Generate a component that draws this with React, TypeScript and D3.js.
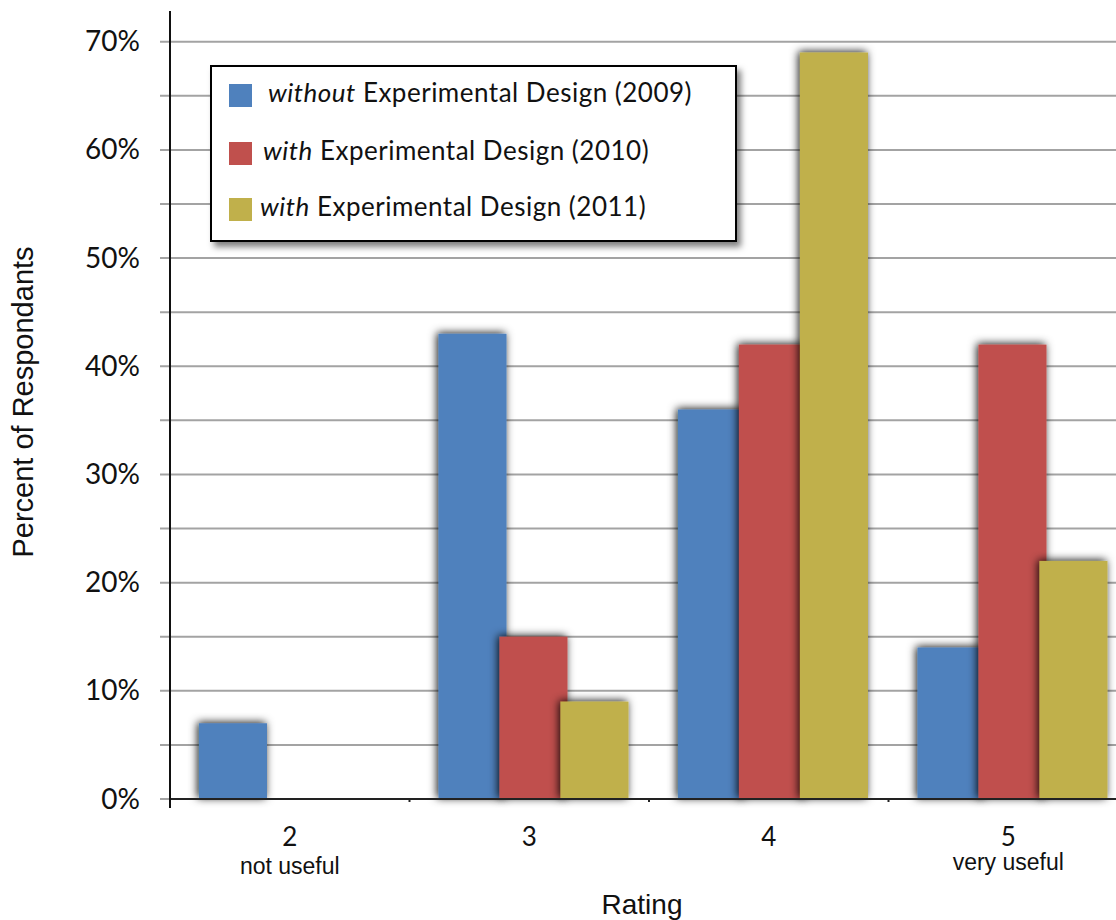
import * as d3 from 'd3';
import { useEffect, useRef } from 'react';

const width = 1116;
const height = 920;

const ratings = ['2', '3', '4', '5'];
const ratingNotes = ['not useful', '', '', 'very useful'];
const seriesKeys = ['2009', '2010', '2011'];
const seriesPrefix = ['without', 'with', 'with'];
const seriesRest = [
  ' Experimental Design (2009)',
  ' Experimental Design (2010)',
  ' Experimental Design (2011)',
];
const seriesColors = ['#4f81bd', '#c0504d', '#c0b04b'];
const values2009 = [7, 43, 36, 14];
const values2010 = [0, 15, 42, 42];
const values2011 = [0, 9, 69, 22];
const yTicks = [0, 10, 20, 30, 40, 50, 60, 70];
const yGrid = [0, 5, 10, 15, 20, 25, 30, 35, 40, 45, 50, 55, 60, 65, 70];

export default function App() {
  const containerRef = useRef<HTMLDivElement>(null);

  useEffect(() => {
    containerRef.current.innerHTML = '';
    document.body.style.margin = '0';

    const plot = { left: 170, right: 1128, top: 41.7, bottom: 799 };
    const values = [values2009, values2010, values2011];

    const x = d3.scaleBand().domain(ratings).range([plot.left, plot.right]);
    const band = x.bandwidth();
    const xs = d3
      .scaleBand()
      .domain(seriesKeys)
      .range([band * 0.121, band * 0.885]);
    const barW = xs.bandwidth() * 1.115;
    const y = d3.scaleLinear().domain([0, 70]).range([plot.bottom, plot.top]);

    const svg = d3
      .select(containerRef.current)
      .append('svg')
      .attr('width', width)
      .attr('height', height)
      .style('display', 'block')
      .style('background', '#fff');

    const defs = svg.append('defs');
    defs
      .append('filter')
      .attr('id', 'barShadow')
      .attr('x', '-40%')
      .attr('y', '-15%')
      .attr('width', '180%')
      .attr('height', '130%')
      .append('feDropShadow')
      .attr('dx', -1.5)
      .attr('dy', -1)
      .attr('stdDeviation', 4)
      .attr('flood-color', '#000')
      .attr('flood-opacity', 0.9);
    defs
      .append('filter')
      .attr('id', 'boxShadow')
      .attr('x', '-10%')
      .attr('y', '-10%')
      .attr('width', '130%')
      .attr('height', '140%')
      .append('feDropShadow')
      .attr('dx', 4)
      .attr('dy', 5)
      .attr('stdDeviation', 3)
      .attr('flood-color', '#000')
      .attr('flood-opacity', 0.5);

    // gridlines + left ticks
    svg
      .append('g')
      .selectAll('line')
      .data(yGrid)
      .join('line')
      .attr('x1', plot.left - 10)
      .attr('x2', width)
      .attr('y1', (d) => y(d))
      .attr('y2', (d) => y(d))
      .attr('stroke', '#a3a3a3')
      .attr('stroke-width', 2);

    // y tick labels
    svg
      .append('g')
      .selectAll('text')
      .data(yTicks)
      .join('text')
      .attr('x', 140)
      .attr('y', (d) => y(d) + 9.5)
      .attr('text-anchor', 'end')
      .attr('font-family', 'Lato, sans-serif')
      .attr('font-size', 28)
      .attr('fill', '#111')
      .text((d) => `${d}%`);

    // bars, one series after the other so later ones overlap
    values.forEach((vals, si) => {
      svg
        .append('g')
        .selectAll('rect')
        .data(vals.map((v, i) => ({ v, cat: ratings[i] })).filter((d) => d.v > 0))
        .join('rect')
        .attr('x', (d) => x(d.cat) + xs(seriesKeys[si]))
        .attr('y', (d) => y(d.v))
        .attr('width', barW)
        .attr('height', (d) => y(0) - y(d.v))
        .attr('fill', seriesColors[si])
        .attr('filter', 'url(#barShadow)');
    });

    // axes
    svg
      .append('line')
      .attr('x1', plot.left)
      .attr('x2', width)
      .attr('y1', plot.bottom)
      .attr('y2', plot.bottom)
      .attr('stroke', '#222')
      .attr('stroke-width', 2);
    svg
      .append('line')
      .attr('x1', plot.left)
      .attr('x2', plot.left)
      .attr('y1', 11)
      .attr('y2', 808)
      .attr('stroke', '#111')
      .attr('stroke-width', 2);
    svg
      .append('g')
      .selectAll('line')
      .data(ratings.slice(1))
      .join('line')
      .attr('x1', (d) => x(d))
      .attr('x2', (d) => x(d))
      .attr('y1', plot.bottom)
      .attr('y2', plot.bottom + 3)
      .attr('stroke', '#222')
      .attr('stroke-width', 2);

    // x labels
    const xl = svg.append('g');
    xl.selectAll('text.cat')
      .data(ratings)
      .join('text')
      .attr('class', 'cat')
      .attr('x', (d) => x(d) + band / 2)
      .attr('y', 846)
      .attr('text-anchor', 'middle')
      .attr('font-family', 'Lato, sans-serif')
      .attr('font-size', 26)
      .attr('fill', '#111')
      .text((d) => d);
    xl.selectAll('text.note')
      .data(ratingNotes.map((n, i) => ({ n, i })).filter((d) => d.n))
      .join('text')
      .attr('class', 'note')
      .attr('x', (d) => x(ratings[d.i]) + band / 2)
      .attr('y', (d) => (d.i === 0 ? 874 : 870))
      .attr('text-anchor', 'middle')
      .attr('font-family', '"Liberation Sans", Arial, sans-serif')
      .attr('font-size', 23)
      .attr('fill', '#111')
      .text((d) => d.n);

    svg
      .append('text')
      .attr('x', 642)
      .attr('y', 914)
      .attr('text-anchor', 'middle')
      .attr('font-family', '"Liberation Sans", Arial, sans-serif')
      .attr('font-size', 28)
      .attr('fill', '#111')
      .text('Rating');

    svg
      .append('text')
      .attr('transform', 'translate(33,402) rotate(-90)')
      .attr('text-anchor', 'middle')
      .attr('font-family', '"Liberation Sans", Arial, sans-serif')
      .attr('font-size', 29)
      .attr('fill', '#111')
      .text('Percent of Respondants');

    // legend
    const lg = svg.append('g');
    lg.append('rect')
      .attr('x', 211)
      .attr('y', 66)
      .attr('width', 525)
      .attr('height', 175)
      .attr('fill', '#fff')
      .attr('stroke', '#000')
      .attr('stroke-width', 2)
      .attr('filter', 'url(#boxShadow)');
    const textX = [268, 263, 260];
    const rowY = [84, 142, 198];
    const baseY = [102, 160, 216];
    seriesKeys.forEach((k, i) => {
      lg.append('rect')
        .attr('x', 229)
        .attr('y', rowY[i])
        .attr('width', 23)
        .attr('height', 23)
        .attr('fill', seriesColors[i]);
      const t = lg
        .append('text')
        .attr('x', textX[i])
        .attr('y', baseY[i])
        .attr('font-family', 'Lato, sans-serif')
        .attr('font-size', 26)
        .attr('letter-spacing', 0.5)
        .attr('fill', '#111');
      t.append('tspan').attr('font-style', 'italic').text(seriesPrefix[i]);
      t.append('tspan').text(seriesRest[i]);
    });
  }, []);

  return <div ref={containerRef}></div>;
}
